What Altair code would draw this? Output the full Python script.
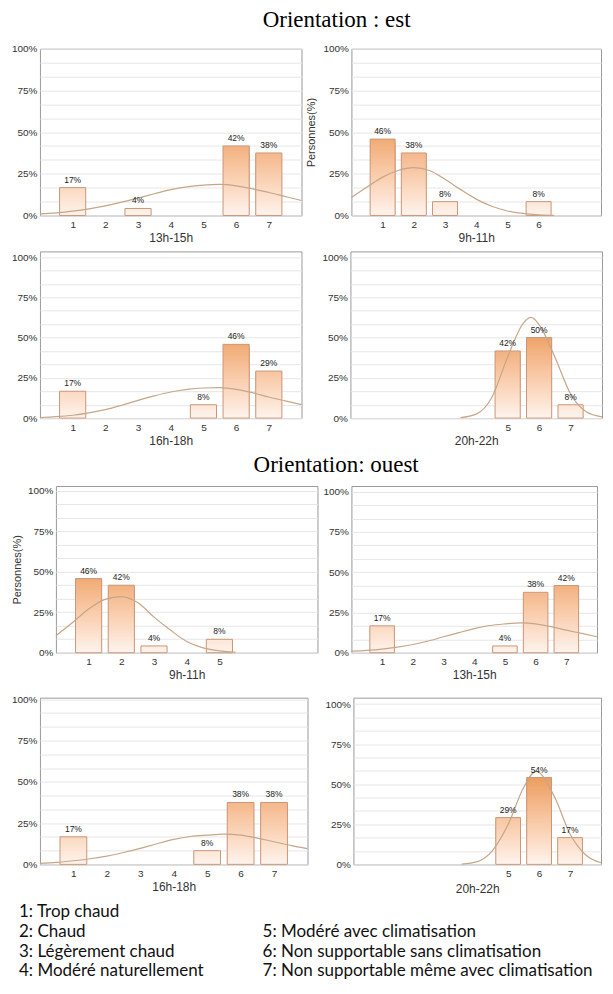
import altair as alt
import pandas as pd

# ---------------- data ----------------
# Orientation : est
est_13_15_cat = [1, 3, 6, 7]
est_13_15_pct = [16.7, 4.2, 41.7, 37.5]
est_13_15_ticks = [1, 2, 3, 4, 5, 6, 7]
est_13_15_cx = [0, 0.5, 1, 1.5, 2, 2.5, 3, 3.5, 4, 4.5, 5, 5.5, 6, 6.5, 7, 7.5, 8]
est_13_15_cy = [1.0, 1.6, 2.6, 4.0, 5.8, 8.0, 10.5, 13.0, 15.5, 17.2, 18.2, 18.6, 17.8, 16.0, 13.8, 11.4, 9.0]

est_9_11_cat = [1, 2, 3, 6]
est_9_11_pct = [45.8, 37.5, 8.3, 8.3]
est_9_11_ticks = [1, 2, 3, 4, 5, 6]
est_9_11_cx = [0, 0.5, 1, 1.5, 2, 2.5, 3, 3.5, 4, 4.5, 5, 5.5, 6, 6.5]
est_9_11_cy = [10.8, 17.0, 23.0, 27.0, 28.7, 27.0, 21.7, 15.5, 9.8, 5.5, 2.7, 1.2, 0.4, 0.1]

est_16_18_cat = [1, 5, 6, 7]
est_16_18_pct = [16.7, 8.3, 45.8, 29.2]
est_16_18_ticks = [1, 2, 3, 4, 5, 6, 7]
est_16_18_cx = [0, 0.5, 1, 1.5, 2, 2.5, 3, 3.5, 4, 4.5, 5, 5.5, 6, 6.5, 7, 7.5, 8]
est_16_18_cy = [0.4, 0.9, 1.8, 3.3, 5.3, 8.0, 11.0, 13.8, 16.2, 17.9, 18.7, 18.9, 17.9, 15.8, 13.1, 10.7, 8.4]

est_20_22_cat = [5, 6, 7]
est_20_22_pct = [41.7, 50.0, 8.3]
est_20_22_ticks = [5, 6, 7]
est_20_22_cx = [3.5, 4, 4.5, 5, 5.5, 5.75, 6, 6.5, 7, 7.5, 8]
est_20_22_cy = [0.3, 2.5, 13.0, 38.0, 59.0, 62.5, 58.0, 38.0, 15.0, 4.0, 0.8]

# Orientation : ouest
ouest_9_11_cat = [1, 2, 3, 5]
ouest_9_11_pct = [45.8, 41.7, 4.2, 8.3]
ouest_9_11_ticks = [1, 2, 3, 4, 5]
ouest_9_11_cx = [0, 0.5, 1, 1.5, 2, 2.5, 3, 3.5, 4, 4.5, 5, 5.5]
ouest_9_11_cy = [10.5, 18.5, 27.0, 33.0, 34.7, 31.0, 22.0, 14.0, 7.0, 3.0, 1.1, 0.3]

ouest_13_15_cat = [1, 5, 6, 7]
ouest_13_15_pct = [16.7, 4.2, 37.5, 41.7]
ouest_13_15_ticks = [1, 2, 3, 4, 5, 6, 7]
ouest_13_15_cx = [0, 0.5, 1, 1.5, 2, 2.5, 3, 3.5, 4, 4.5, 5, 5.5, 6, 6.5, 7, 7.5, 8]
ouest_13_15_cy = [1.0, 1.5, 2.3, 3.5, 5.1, 7.3, 9.9, 12.5, 15.0, 16.9, 17.9, 18.5, 17.9, 16.2, 14.0, 12.0, 9.9]

ouest_16_18_cat = [1, 5, 6, 7]
ouest_16_18_pct = [16.7, 8.3, 37.5, 37.5]
ouest_16_18_ticks = [1, 2, 3, 4, 5, 6, 7]
ouest_16_18_cx = [0, 0.5, 1, 1.5, 2, 2.5, 3, 3.5, 4, 4.5, 5, 5.5, 6, 6.5, 7, 7.5, 8]
ouest_16_18_cy = [0.6, 1.2, 2.2, 3.4, 5.0, 7.2, 9.7, 12.5, 15.1, 16.9, 17.7, 18.3, 17.7, 15.9, 13.7, 11.5, 9.5]

ouest_20_22_cat = [5, 6, 7]
ouest_20_22_pct = [29.2, 54.2, 16.7]
ouest_20_22_ticks = [5, 6, 7]
ouest_20_22_cx = [3.5, 4, 4.5, 5, 5.5, 5.9, 6.5, 7, 7.5, 8]
ouest_20_22_cy = [0.2, 1.7, 8.8, 25.0, 48.0, 58.0, 42.0, 19.0, 6.0, 1.0]

y_grid_step = 25 / 3

legend_col = [0, 0, 0, 0, 1, 1, 1]
legend_row = [0, 1, 2, 3, 1, 2, 3]
legend_text = [
    "1: Trop chaud",
    "2: Chaud",
    "3: Légèrement chaud",
    "4: Modéré naturellement",
    "5: Modéré avec climatisation",
    "6: Non supportable sans climatisation",
    "7: Non supportable même avec climatisation",
]

# ---------------- styles ----------------
AXIS_FONT = "Liberation Sans"
BAR_LOW = "#fdf4ee"
BAR_HIGH = "#eb9d5e"
BAR_STROKE = "#c9977a"
CURVE = "#c6a688"
GRID = "#e6e6e6"
FRAME = "#9a9a9a"
PANEL_H = 167
HALF_BAR = 0.4


def panel(cats, pcts, ticks, cx, cy, xtitle, ymax, width, ytitle=None,
          ytitle_pad=4, xtitle_pad=3, min_extent=None):
    bars = pd.DataFrame({"cat": cats, "val": pcts})
    rows = []
    for c, v in zip(cats, pcts):
        lv = v
        while lv > 0:
            rows.append({"cat": c, "lvl": lv})
            lv = round(lv - 0.4, 4)
    slices = pd.DataFrame(rows)
    curve = pd.DataFrame({"cx": cx, "cy": cy})
    grid_vals = [round(i * y_grid_step, 4) for i in range(13) if i * y_grid_step <= 100.001]

    xs = alt.Scale(domain=[0, 8], nice=False, zero=False)
    ys = alt.Scale(domain=[0, ymax], nice=False, zero=True)

    yaxis_kw = dict(
        values=grid_vals, tickCount=40,
        labelExpr="abs(datum.value/25 - round(datum.value/25)) < 0.01 ? format(datum.value, '.0f') + '%' : ''",
        grid=True, gridColor=GRID, gridWidth=1, ticks=False, domain=False,
        labelOverlap=False, labelPadding=3, labelFontSize=10, labelColor="#333",
        labelFont=AXIS_FONT,
    )
    if min_extent is not None:
        yaxis_kw.update(minExtent=min_extent)
    if ytitle:
        yaxis_kw.update(title=ytitle, titleFontSize=11, titleFont=AXIS_FONT,
                        titleFontWeight="normal", titleColor="#333", titlePadding=ytitle_pad)
    else:
        yaxis_kw.update(title=None)

    xaxis = alt.Axis(
        values=ticks, tickCount=20, format="d", grid=False, ticks=False, domain=False,
        labelPadding=4, labelFontSize=10, labelColor="#333", labelFont=AXIS_FONT,
        title=xtitle, titleFontSize=12, titleFont=AXIS_FONT, titleFontWeight="normal",
        titleColor="#333", titlePadding=xtitle_pad)

    base_slices = alt.Chart(slices).transform_calculate(
        x1=f"datum.cat - {HALF_BAR}", x2=f"datum.cat + {HALF_BAR}"
    ).mark_rect(strokeWidth=0).encode(
        x=alt.X("x1:Q", scale=xs, axis=xaxis),
        x2="x2:Q",
        y=alt.Y("lvl:Q", scale=ys, axis=alt.Axis(**yaxis_kw)),
        y2=alt.datum(0),
        color=alt.Color("lvl:Q", scale=alt.Scale(domain=[0, 55], range=[BAR_LOW, BAR_HIGH]), legend=None),
    )

    outline = alt.Chart(bars).transform_calculate(
        x1=f"datum.cat - {HALF_BAR}", x2=f"datum.cat + {HALF_BAR}"
    ).mark_rect(fillOpacity=0, stroke=BAR_STROKE, strokeWidth=1).encode(
        x=alt.X("x1:Q", scale=xs),
        x2="x2:Q",
        y=alt.Y("val:Q", scale=ys),
        y2=alt.datum(0),
    )

    labels = alt.Chart(bars).transform_calculate(
        lab="round(datum.val) + '%'"
    ).mark_text(dy=-3, fontSize=8.5, font=AXIS_FONT, color="#222", baseline="bottom").encode(
        x=alt.X("cat:Q", scale=xs),
        y=alt.Y("val:Q", scale=ys),
        text="lab:N",
    )

    line = alt.Chart(curve).mark_line(interpolate="monotone", color=CURVE, strokeWidth=1.2).encode(
        x=alt.X("cx:Q", scale=xs),
        y=alt.Y("cy:Q", scale=ys),
    )

    return alt.layer(base_slices, outline, line, labels).properties(
        width=width, height=PANEL_H,
        view=alt.ViewBackground(stroke=FRAME, strokeWidth=1),
    )


pA = panel(est_13_15_cat, est_13_15_pct, est_13_15_ticks, est_13_15_cx, est_13_15_cy, "13h-15h", 100, 262)
pB = panel(est_9_11_cat, est_9_11_pct, est_9_11_ticks, est_9_11_cx, est_9_11_cy, "9h-11h", 100, 250,
           ytitle="Personnes(%)", ytitle_pad=6)
pC = panel(est_16_18_cat, est_16_18_pct, est_16_18_ticks, est_16_18_cx, est_16_18_cy, "16h-18h", 103.5, 262)
pD = panel(est_20_22_cat, est_20_22_pct, est_20_22_ticks, est_20_22_cx, est_20_22_cy, "20h-22h", 103.5, 252,
           min_extent=45)

pE = panel(ouest_9_11_cat, ouest_9_11_pct, ouest_9_11_ticks, ouest_9_11_cx, ouest_9_11_cy, "9h-11h", 103, 262,
           ytitle="Personnes(%)", ytitle_pad=5)
pF = panel(ouest_13_15_cat, ouest_13_15_pct, ouest_13_15_ticks, ouest_13_15_cx, ouest_13_15_cy, "13h-15h", 103.5, 246,
           min_extent=32)
pG = panel(ouest_16_18_cat, ouest_16_18_pct, ouest_16_18_ticks, ouest_16_18_cx, ouest_16_18_cy, "16h-18h", 101, 268)
pH = panel(ouest_20_22_cat, ouest_20_22_pct, ouest_20_22_ticks, ouest_20_22_cx, ouest_20_22_cy, "20h-22h", 104, 248,
           xtitle_pad=5, min_extent=42)


def spacer():
    return alt.Chart(pd.DataFrame({"s": [0]})).mark_point(opacity=0, size=1).encode(
        x=alt.value(0), y=alt.value(0)
    ).properties(width=1, height=1)


def row(a, b):
    return alt.concat(spacer(), a, b, columns=3, spacing=0, align="none")


def group_title(txt, off):
    return alt.TitleParams(txt, font="Liberation Serif", fontSize=23, fontWeight="normal",
                           color="#000", anchor="middle", dx=30, offset=off)


group1 = alt.concat(row(pA, pB), row(pC, pD), columns=1, spacing=6, align="none",
                    title=group_title("Orientation : est", 11))
group2 = alt.concat(row(pE, pF), row(pG, pH), columns=1, spacing=12, align="none",
                    title=group_title("Orientation: ouest", 8))

legend_df = pd.DataFrame({"col": legend_col, "row": legend_row, "text": legend_text})
legend = alt.Chart(legend_df).mark_text(
    align="left", baseline="middle", font="Lato", fontSize=17, color="#111"
).encode(
    x=alt.X("col:Q", scale=alt.Scale(domain=[0, 1], range=[10, 254]), axis=None),
    y=alt.Y("row:Q", scale=alt.Scale(domain=[0, 3], range=[10, 69]), axis=None),
    text="text:N",
).properties(width=560, height=72, view=alt.ViewBackground(strokeWidth=0))

chart = alt.concat(group1, group2, legend, columns=1, spacing=7, align="none").properties(
    padding=0, background="#ffffff"
).configure_view(strokeWidth=0)

chart.save("out.html", embed_options={"renderer": "svg", "actions": False})
